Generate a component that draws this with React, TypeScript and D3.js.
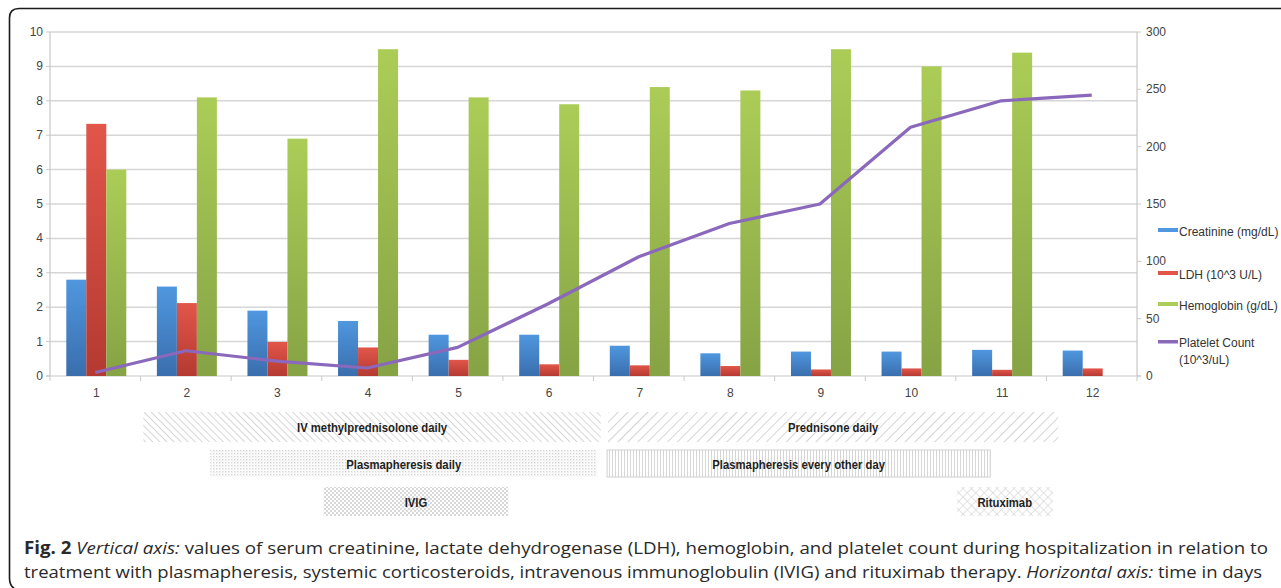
import * as d3 from 'd3'

const days = ['1', '2', '3', '4', '5', '6', '7', '8', '9', '10', '11', '12']
const creatinine = [2.8, 2.6, 1.9, 1.6, 1.2, 1.2, 0.88, 0.66, 0.71, 0.71, 0.76, 0.74]
const ldh = [7.33, 2.12, 0.99, 0.83, 0.47, 0.34, 0.31, 0.29, 0.19, 0.22, 0.18, 0.22]
const hemoglobin: (number | null)[] = [6.0, 8.1, 6.9, 9.5, 8.1, 7.9, 8.4, 8.3, 9.5, 9.0, 9.4, null]
const platelets = [3, 22, 13, 7, 25, 63, 104, 133, 150, 217, 240, 245]

const leftTicks = [0, 1, 2, 3, 4, 5, 6, 7, 8, 9, 10]
const rightTicks = [0, 50, 100, 150, 200, 250, 300]

const seriesNames = ['Creatinine (mg/dL)', 'LDH (10^3 U/L)', 'Hemoglobin (g/dL)']
const lineName = ['Platelet Count', '(10^3/uL)']

// treatments: start/end in day units, row index
const treatNames = [
  'IV methylprednisolone daily',
  'Prednisone daily',
  'Plasmapheresis daily',
  'Plasmapheresis every other day',
  'IVIG',
  'Rituximab',
]
const treatStart = [1.53, 6.66, 2.27, 6.65, 3.52, 10.51]
const treatEnd = [6.58, 11.63, 6.54, 10.88, 5.56, 11.57]
const treatRow = [0, 0, 1, 1, 2, 2]

const W = 1281
const H = 588
const margin = { left: 50, right: 144, top: 32, bottom: 212 }
const x0 = margin.left
const x1 = W - margin.right
const yTop = margin.top
const yBot = H - margin.bottom

const barColors = [
  ['#4f97df', '#3a6ead'],
  ['#e2564a', '#b43a31'],
  ['#abcd57', '#86a345'],
]
const lineColor = '#8a68bb'
const font = 'Liberation Sans, Arial, sans-serif'

export default function App() {
  const x = d3.scaleBand<string>().domain(days).range([x0, x1]).padding(0)
  const bw = x.bandwidth()
  const inner = d3.scaleBand<number>().domain([0, 1, 2]).range([bw / 2 - 29, bw / 2 + 31]).padding(0)
  const yL = d3.scaleLinear().domain([0, 10]).range([yBot, yTop])
  const yR = d3.scaleLinear().domain([0, 300]).range([yBot, yTop])
  const dayX = d3.scaleLinear().domain([0.5, 12.5]).range([x0, x1])

  const series = [creatinine, ldh, hemoglobin]
  const line = d3
    .line<number>()
    .x((_, i) => x(days[i])! + bw / 2)
    .y((d) => yR(d))

  const rowY = [412, 450, 487]
  const rowH = [30, 27, 29]
  const patterns = ['pDiagA', 'pDiagB', 'pDots', 'pVert', 'pCheck', 'pCross']
  const borders = [null, null, null, '#cfcfcf', null, null]

  const legendY = [230, 273, 304]

  return (
    <svg
      width={W}
      height={H}
      style={{ position: 'absolute', left: 0, top: 0, background: '#fff' }}
      fontFamily={font}
    >
      <defs>
        {barColors.map((c, i) => (
          <linearGradient key={i} id={`g${i}`} x1="0" y1="0" x2="0" y2="1">
            <stop offset="0%" stopColor={c[0]} />
            <stop offset="100%" stopColor={c[1]} />
          </linearGradient>
        ))}
        <pattern id="pDiagA" width="5" height="5" patternUnits="userSpaceOnUse" patternTransform="rotate(-45)">
          <line x1="0" y1="0" x2="0" y2="5" stroke="#cdcdcd" strokeWidth="1.6" />
        </pattern>
        <pattern id="pDiagB" width="7" height="7" patternUnits="userSpaceOnUse" patternTransform="rotate(45)">
          <line x1="0" y1="0" x2="0" y2="7" stroke="#c9c9c9" strokeWidth="1.6" />
        </pattern>
        <pattern id="pDots" width="3" height="3" patternUnits="userSpaceOnUse">
          <rect x="0" y="0" width="1.4" height="1.4" fill="#d4d4d4" />
          <rect x="1.5" y="1.5" width="1" height="1" fill="#e2e2e2" />
        </pattern>
        <pattern id="pVert" width="3" height="3" patternUnits="userSpaceOnUse">
          <line x1="0.5" y1="0" x2="0.5" y2="3" stroke="#d6d6d6" strokeWidth="1" />
        </pattern>
        <pattern id="pCheck" width="4" height="4" patternUnits="userSpaceOnUse">
          <rect x="0" y="0" width="2" height="2" fill="#d8d8d8" />
          <rect x="2" y="2" width="2" height="2" fill="#d8d8d8" />
        </pattern>
        <pattern id="pCross" width="6" height="6" patternUnits="userSpaceOnUse" patternTransform="rotate(45)">
          <line x1="0" y1="0" x2="0" y2="6" stroke="#d2d2d2" strokeWidth="1.2" />
          <line x1="0" y1="0" x2="6" y2="0" stroke="#d2d2d2" strokeWidth="1.2" />
        </pattern>
      </defs>

      {/* frame */}
      <path d={`M ${W + 2} 8.5 H 19 Q 9.5 8.5 9.5 18 V 578 Q 9.5 586 15 589`} fill="none" stroke="#1a1a1a" strokeWidth="1.6" />

      {/* grid */}
      {leftTicks.slice(1).map((t) => (
        <line key={t} x1={x0} x2={x1} y1={yL(t)} y2={yL(t)} stroke="#d6d6d6" strokeWidth="1.5" />
      ))}

      {/* axes */}
      <line x1={x0} x2={x0} y1={yTop} y2={yBot} stroke="#c8c8c8" strokeWidth="1.2" />
      <line x1={x1} x2={x1} y1={yTop} y2={yBot} stroke="#c8c8c8" strokeWidth="1.2" />
      <line x1={x0 - 4} x2={x1 + 4} y1={yBot} y2={yBot} stroke="#c8c8c8" strokeWidth="1.2" />
      {leftTicks.map((t) => (
        <g key={t}>
          <line x1={x0 - 4} x2={x0} y1={yL(t)} y2={yL(t)} stroke="#c8c8c8" />
          <text x={x0 - 7} y={yL(t) + 4} textAnchor="end" fontSize="12" fill="#444">
            {t}
          </text>
        </g>
      ))}
      {rightTicks.map((t) => (
        <g key={t}>
          <line x1={x1} x2={x1 + 4} y1={yR(t)} y2={yR(t)} stroke="#c8c8c8" />
          <text x={x1 + 9} y={yR(t) + 4} textAnchor="start" fontSize="12" fill="#444">
            {t}
          </text>
        </g>
      ))}
      {days.map((d) => (
        <g key={d}>
          <line x1={x(d)!} x2={x(d)!} y1={yBot} y2={yBot + 5} stroke="#c8c8c8" />
          <text x={x(d)! + bw / 2 + 1} y={yBot + 21} textAnchor="middle" fontSize="12" fill="#444">
            {d}
          </text>
        </g>
      ))}
      <line x1={x1} x2={x1} y1={yBot} y2={yBot + 5} stroke="#c8c8c8" />

      {/* bars */}
      {series.map((s, si) =>
        s.map((v, i) =>
          v == null ? null : (
            <rect
              key={`${si}-${i}`}
              x={x(days[i])! + inner(si)!}
              y={yL(v)}
              width={inner.bandwidth()}
              height={yBot - yL(v)}
              fill={`url(#g${si})`}
            />
          )
        )
      )}

      {/* platelet line */}
      <path d={line(platelets) ?? ''} fill="none" stroke={lineColor} strokeWidth="3.2" strokeLinejoin="round" />

      {/* legend */}
      {seriesNames.map((n, i) => (
        <g key={n}>
          <rect x={1158} y={legendY[i] - 2} width={20} height={4} fill={barColors[i][0]} />
          <text x={1179} y={legendY[i] + 6} fontSize="12" fill="#333">
            {n}
          </text>
        </g>
      ))}
      <rect x={1158} y={340} width={20} height={3.5} fill={lineColor} />
      <text x={1179} y={347} fontSize="12" fill="#333">
        {lineName[0]}
      </text>
      <text x={1179} y={364} fontSize="12" fill="#333">
        {lineName[1]}
      </text>

      {/* treatments */}
      {treatNames.map((n, i) => {
        const r = treatRow[i]
        const xa = dayX(treatStart[i])
        const xb = dayX(treatEnd[i])
        return (
          <g key={n}>
            <rect
              x={xa}
              y={rowY[r]}
              width={xb - xa}
              height={rowH[r]}
              fill={`url(#${patterns[i]})`}
              stroke={borders[i] ?? 'none'}
            />
            <text
              transform={`translate(${(xa + xb) / 2},${rowY[r] + rowH[r] / 2 + 5}) scale(0.87,1)`}
              textAnchor="middle"
              fontSize="13"
              fontWeight="bold"
              fill="#1e1e1e"
            >
              {n}
            </text>
          </g>
        )
      })}

      {/* caption */}
      <g fontFamily="'Open Sans', sans-serif" fontSize="17" fill="#2a2a2a">
        <text x={24} y={554} textLength={1244} lengthAdjust="spacingAndGlyphs">
          <tspan fontWeight="bold">Fig. 2</tspan> <tspan fontStyle="italic">Vertical axis:</tspan> values of serum
          creatinine, lactate dehydrogenase (LDH), hemoglobin, and platelet count during hospitalization in relation to
        </text>
        <text x={24} y={578} textLength={1238} lengthAdjust="spacingAndGlyphs">
          treatment with plasmapheresis, systemic corticosteroids, intravenous immunoglobulin (IVIG) and rituximab
          therapy. <tspan fontStyle="italic">Horizontal axis:</tspan> time in days
        </text>
      </g>
    </svg>
  )
}
